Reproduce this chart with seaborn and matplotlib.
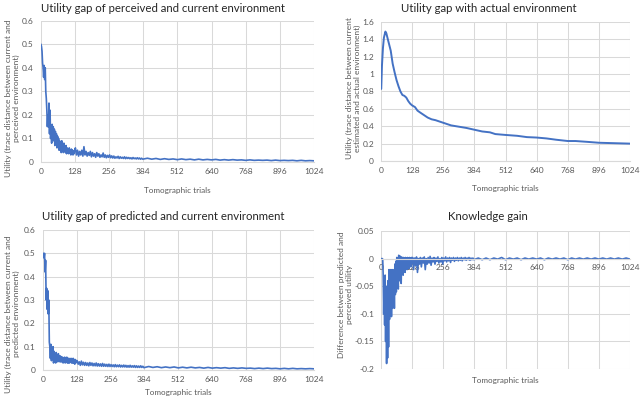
import numpy as np
import pandas as pd
import matplotlib
matplotlib.use("Agg")
import matplotlib.pyplot as plt
from matplotlib.ticker import FuncFormatter, MultipleLocator
import seaborn as sns

# trial numbers: dense at the start, sparser later
trials_early = np.arange(1, 128, 2)      # 64 points
trials_mid = np.arange(130, 383, 4)      # 64 points
trials_late = np.arange(400, 1025, 16)   # 40 points
trials = np.concatenate([trials_early, trials_mid, trials_late])

# utility gap of perceived and current environment
perceived_gap = [
    0.50, 0.49, 0.47, 0.42, 0.40, 0.36, 0.41, 0.35, 0.40, 0.30, 0.27, 0.22, 0.15, 0.20, 0.15, 0.25,
    0.12, 0.22, 0.10, 0.14, 0.08, 0.16, 0.10, 0.15, 0.09, 0.14, 0.07, 0.13, 0.10, 0.12, 0.06, 0.11,
    0.07, 0.10, 0.05, 0.09, 0.06, 0.08, 0.04, 0.09, 0.05, 0.07, 0.04, 0.08, 0.05, 0.06, 0.04, 0.07,
    0.035, 0.06, 0.04, 0.055, 0.035, 0.06, 0.04, 0.05, 0.03, 0.055, 0.035, 0.05, 0.03, 0.045, 0.035, 0.05,
    0.06, 0.03, 0.05, 0.025, 0.045, 0.03, 0.05, 0.025, 0.065, 0.03, 0.045, 0.025, 0.04, 0.028, 0.045, 0.022,
    0.04, 0.025, 0.035, 0.02, 0.04, 0.025, 0.035, 0.02, 0.03, 0.022, 0.038, 0.02, 0.03, 0.018, 0.028, 0.02,
    0.03, 0.018, 0.026, 0.017, 0.025, 0.016, 0.022, 0.017, 0.024, 0.015, 0.022, 0.016, 0.02, 0.015, 0.022, 0.014,
    0.02, 0.015, 0.019, 0.014, 0.018, 0.013, 0.019, 0.014, 0.017, 0.013, 0.018, 0.013, 0.017, 0.012, 0.016, 0.012,
    0.016, 0.012, 0.015, 0.011, 0.014, 0.011, 0.013, 0.010, 0.013, 0.010, 0.012, 0.009, 0.012, 0.009, 0.011, 0.009,
    0.011, 0.008, 0.010, 0.008, 0.010, 0.008, 0.009, 0.007, 0.009, 0.007, 0.008, 0.007, 0.008, 0.006, 0.008, 0.006,
    0.007, 0.006, 0.007, 0.005, 0.007, 0.005, 0.006, 0.005,
]

# utility gap of predicted and current environment
predicted_gap = [
    0.50, 0.50, 0.48, 0.50, 0.42, 0.47, 0.30, 0.35, 0.26, 0.34, 0.24, 0.30, 0.12, 0.10, 0.05, 0.11,
    0.04, 0.09, 0.06, 0.10, 0.03, 0.08, 0.05, 0.07, 0.03, 0.075, 0.04, 0.065, 0.035, 0.07, 0.04, 0.06,
    0.035, 0.06, 0.035, 0.055, 0.035, 0.055, 0.03, 0.05, 0.035, 0.055, 0.03, 0.05, 0.035, 0.055, 0.03, 0.05,
    0.03, 0.05, 0.03, 0.045, 0.035, 0.05, 0.03, 0.045, 0.03, 0.05, 0.03, 0.045, 0.025, 0.045, 0.03, 0.04,
    0.04, 0.025, 0.035, 0.02, 0.038, 0.022, 0.033, 0.02, 0.032, 0.02, 0.03, 0.018, 0.032, 0.02, 0.03, 0.018,
    0.028, 0.018, 0.03, 0.017, 0.027, 0.017, 0.026, 0.016, 0.028, 0.016, 0.025, 0.016, 0.024, 0.015, 0.025, 0.015,
    0.023, 0.015, 0.022, 0.014, 0.023, 0.014, 0.021, 0.014, 0.022, 0.013, 0.02, 0.013, 0.021, 0.013, 0.02, 0.012,
    0.019, 0.012, 0.02, 0.012, 0.018, 0.012, 0.019, 0.011, 0.018, 0.011, 0.017, 0.011, 0.018, 0.011, 0.016, 0.01,
    0.015, 0.011, 0.014, 0.010, 0.013, 0.010, 0.013, 0.009, 0.012, 0.009, 0.012, 0.009, 0.011, 0.008, 0.011, 0.008,
    0.010, 0.008, 0.010, 0.007, 0.009, 0.007, 0.009, 0.007, 0.008, 0.006, 0.008, 0.006, 0.008, 0.006, 0.007, 0.005,
    0.007, 0.005, 0.007, 0.005, 0.006, 0.005, 0.006, 0.005,
]

# knowledge gain (difference between predicted and perceived utility)
knowledge_gain = [
    0.0, 0.0, 0.0, -0.001, -0.03, -0.10, -0.04, -0.12, -0.03, -0.15, -0.05, -0.19, -0.06, -0.18, -0.04, -0.16,
    -0.02, -0.11, -0.03, -0.10, -0.02, -0.105, -0.04, -0.09, -0.02, -0.08, -0.03, -0.09, -0.01, -0.065, -0.005, -0.06,
    0.002, -0.05, -0.005, -0.055, 0.006, -0.04, 0.005, -0.035, 0.002, -0.045, 0.003, -0.02, 0.0, -0.03, 0.002, -0.02,
    0.0, -0.025, 0.002, -0.015, 0.001, -0.02, 0.002, -0.012, 0.001, -0.018, 0.002, -0.01, 0.0, -0.015, 0.002, -0.008,
    0.002, -0.02, 0.001, -0.012, 0.003, -0.025, 0.0, -0.01, 0.002, -0.015, 0.001, -0.008, 0.003, -0.02, 0.0, -0.01,
    0.002, -0.008, 0.004, -0.012, 0.001, -0.006, 0.002, -0.01, 0.001, -0.005, 0.003, -0.008, 0.0, -0.006, 0.002, -0.01,
    0.001, -0.004, 0.003, -0.006, 0.001, -0.004, 0.002, -0.007, 0.001, -0.003, 0.002, -0.005, 0.001, -0.003, 0.002, -0.004,
    0.001, -0.003, 0.002, -0.004, 0.001, -0.002, 0.002, -0.003, 0.001, -0.002, 0.002, -0.003, 0.001, -0.002, 0.001, -0.002,
    0.001, -0.002, 0.001, -0.002, 0.001, -0.001, 0.002, -0.002, 0.001, -0.001, 0.001, -0.002, 0.001, -0.001, 0.001, -0.001,
    0.001, -0.002, 0.001, -0.001, 0.001, -0.001, 0.001, -0.002, 0.001, -0.001, 0.001, -0.001, 0.001, -0.001, 0.001, -0.001,
    0.001, -0.001, 0.001, -0.001, 0.001, -0.001, 0.001, -0.001,
]

# utility gap with actual environment (smooth curve)
actual_trials = [1, 4, 8, 12, 18, 22, 30, 40, 48, 56, 64, 72, 80, 88, 96, 104, 112, 120, 128, 140,
                 150, 160, 176, 192, 208, 224, 240, 256, 288, 320, 352, 384, 416, 448, 470, 512, 560,
                 600, 640, 680, 720, 768, 800, 850, 896, 960, 1024]
actual_gap = [0.83, 1.10, 1.30, 1.42, 1.49, 1.47, 1.38, 1.27, 1.12, 1.02, 0.93, 0.86, 0.80, 0.76, 0.75,
              0.73, 0.69, 0.66, 0.64, 0.62, 0.58, 0.56, 0.53, 0.50, 0.48, 0.47, 0.455, 0.44, 0.41, 0.395,
              0.38, 0.36, 0.34, 0.33, 0.31, 0.30, 0.29, 0.275, 0.27, 0.26, 0.245, 0.23, 0.23, 0.22, 0.21,
              0.205, 0.20]

x_ticks = [0, 128, 256, 384, 512, 640, 768, 896, 1024]

sns.set_theme(style="whitegrid")
plt.rcParams["font.family"] = ["Lato", "DejaVu Sans"]
plt.rcParams["axes.unicode_minus"] = False

W, H = 640, 398
fig = plt.figure(figsize=(6.4, 3.98), dpi=100)
blue = "#4472C4"
grey_text = "#595959"
grid_col = "#D9D9D9"


def make_axes(l, r, t, b):
    return fig.add_axes([l / W, 1 - b / H, (r - l) / W, (b - t) / H])


def style_axes(ax, ylim, ystep, ylabel, ylab_xy, xlab_y):
    ax.set_xlim(0, 1024)
    ax.set_ylim(*ylim)
    ax.set_xticks(x_ticks)
    ax.yaxis.set_major_locator(MultipleLocator(ystep))
    ax.yaxis.set_major_formatter(FuncFormatter(lambda v, _: f"{round(v, 4):g}"))
    ax.grid(True, color=grid_col, linewidth=0.75)
    for s in ["left", "right", "top"]:
        ax.spines[s].set_visible(False)
    ax.spines["bottom"].set_color(grid_col)
    ax.spines["bottom"].set_linewidth(0.8)
    ax.tick_params(length=0, labelsize=6.0, labelcolor=grey_text)
    ax.tick_params(axis="x", pad=4)
    ax.tick_params(axis="y", pad=5)
    ax.set_xlabel("Tomographic trials", fontsize=5.9, color=grey_text)
    ax.set_ylabel(ylabel, fontsize=6.0, color=grey_text, linespacing=1.15)
    ax.xaxis.set_label_coords(0.5, xlab_y)
    ax.xaxis.label.set_verticalalignment("center")
    ax.yaxis.set_label_coords(*ylab_xy)
    ax.yaxis.label.set_verticalalignment("center")


def title(text, cx, cy):
    fig.text(cx / W, 1 - cy / H, text, ha="center", va="center", fontsize=8.2, color="#262626")


# top left
ax1 = make_axes(40.7, 314, 20.7, 162)
sns.lineplot(x=trials, y=perceived_gap, ax=ax1, color=blue, linewidth=1.2)
style_axes(ax1, (0, 0.6), 0.1,
           "Utility (trace distance between current and\nperceived environment)",
           (-0.105, 0.45), -0.2)
title("Utility gap of perceived and current environment", 163, 8)

# top right
ax2 = make_axes(381, 630, 22, 161)
sns.lineplot(x=actual_trials, y=actual_gap, ax=ax2, color=blue, linewidth=1.4)
style_axes(ax2, (0, 1.6), 0.2,
           "Utility (trace distance between current\nestimated and actual environment)",
           (-0.11, 0.525), -0.2)
title("Utility gap with actual environment", 489, 8)

# bottom left
ax3 = make_axes(42.7, 314, 230, 370)
sns.lineplot(x=trials, y=predicted_gap, ax=ax3, color=blue, linewidth=1.2)
style_axes(ax3, (0, 0.6), 0.1,
           "Utility (trace distance between current and\npredicted environment)",
           (-0.113, 0.4), -0.164)
title("Utility gap of predicted and current environment", 163, 216)

# bottom right
ax4 = make_axes(381, 630, 231, 369)
sns.lineplot(x=trials, y=knowledge_gain, ax=ax4, color=blue, linewidth=1.2)
style_axes(ax4, (-0.2, 0.05), 0.05,
           "Difference between predicted and\nperceived utility",
           (-0.141, 0.54), -0.08)
ax4.spines["bottom"].set_position(("data", 0))
ax4.tick_params(axis="x", pad=4)
title("Knowledge gain", 488, 216)

fig.savefig("out.png", dpi=100, facecolor="white")
